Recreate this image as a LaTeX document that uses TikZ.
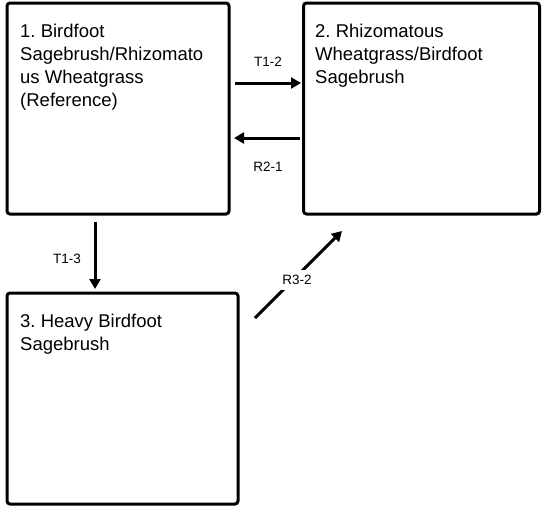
\documentclass[tikz,border=0pt]{standalone}
\usepackage{fontspec}
\setmainfont{Liberation Sans}
\usetikzlibrary{arrows.meta}
\frenchspacing
\begin{document}
\begin{tikzpicture}[x=1pt,y=-1pt,
  statebox/.style={draw,line width=3pt,rounded corners=3pt,inner sep=0pt},
  boxtext/.style={anchor=north west,align=left,inner sep=0pt,font=\fontsize{18.5}{23}\selectfont},
  lbl/.style={font=\fontsize{13.5}{15}\selectfont,inner sep=1.5pt},
  conn/.style={line width=3pt,-{Triangle[length=10pt,width=11pt]}}]
\useasboundingbox (0,0) rectangle (543,506);
\node[statebox,minimum width=222pt,minimum height=211pt] (b1) at (118,108.5) {};
\node[statebox,minimum width=236pt,minimum height=211pt] (b2) at (421.5,108.5) {};
\node[statebox,minimum width=231pt,minimum height=211pt] (b3) at (122.5,398.5) {};
\node[boxtext] (t1) at (20,23.5) {1. Birdfoot\\Sagebrush/Rhizomato\\us Wheatgrass\\(Reference)};
\node[boxtext] (t2) at (315,23.5) {2. Rhizomatous\\Wheatgrass/Birdfoot\\Sagebrush};
\node[boxtext] (t3) at (20,313.5) {3. Heavy Birdfoot\\Sagebrush};
\coordinate (a1s) at (235,83);
\coordinate (a1e) at (301,83);
\coordinate (a2s) at (300,138);
\coordinate (a2e) at (234,138);
\coordinate (a3s) at (95,222);
\coordinate (a3e) at (95,289);
\coordinate (a4s) at (255,318);
\coordinate (a4e) at (342,231);
\draw[conn] (a1s) -- (a1e);
\draw[conn] (a2s) -- (a2e);
\draw[conn] (a3s) -- (a3e);
\draw[conn] (a4s) -- (a4e);
\node[lbl] (l1) at (268,62) {T1-2};
\node[lbl] (l2) at (268,167) {R2-1};
\node[lbl] (l3) at (67,259) {T1-3};
\node[lbl,fill=white,inner xsep=3pt,inner ysep=5pt] (l4) at (297,280) {R3-2};
\end{tikzpicture}
\end{document}
